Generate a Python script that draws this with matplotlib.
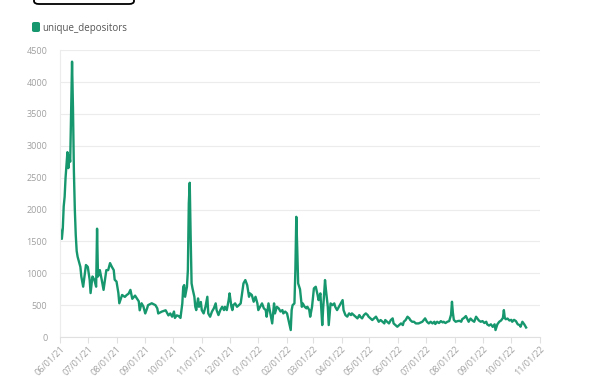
import numpy as np
import pandas as pd
import matplotlib
matplotlib.use("Agg")
import matplotlib.pyplot as plt
import matplotlib.dates as mdates
from matplotlib.patches import FancyBboxPatch

plt.rcParams['font.family'] = ['Open Sans', 'DejaVu Sans']

# days since 2021-06-01 and daily unique depositors
days = [0, 1, 2, 3, 4, 5, 6, 8, 9, 10, 11, 12, 13, 14, 15, 16, 17, 18, 19, 22,
        23, 25, 28, 30, 32, 33, 35, 37, 39, 40, 41, 43, 45, 47, 49, 50, 52, 54, 56, 58,
        59, 61, 63, 64, 67, 68, 70, 72, 74, 76, 78, 81, 85, 86, 88, 90, 92, 94, 95, 99,
        103, 105, 106, 110, 114, 117, 119, 121, 123, 124, 126, 128, 130, 132, 133, 134, 135, 137, 138, 139,
        140, 141, 142, 143, 145, 146, 147, 149, 150, 152, 153, 155, 157, 159, 160, 162, 164, 166, 168, 169,
        171, 173, 175, 177, 178, 180, 182, 183, 185, 186, 187, 189, 191, 193, 195, 196, 198, 200, 202, 204,
        205, 207, 209, 211, 213, 214, 216, 218, 220, 222, 223, 225, 227, 229, 231, 232, 234, 236, 238, 240,
        241, 243, 245, 247, 249, 250, 251, 253, 254, 255, 256, 257, 259, 261, 262, 264, 266, 267, 269, 270,
        272, 274, 276, 278, 279, 281, 283, 284, 286, 287, 289, 290, 292, 294, 296, 297, 299, 301, 303, 305,
        306, 308, 310, 312, 314, 315, 317, 319, 321, 323, 324, 326, 328, 330, 332, 333, 335, 337, 339, 341,
        342, 344, 346, 348, 350, 351, 353, 355, 357, 359, 360, 362, 364, 366, 368, 370, 371, 373, 375, 377,
        378, 380, 382, 384, 387, 391, 394, 396, 398, 400, 402, 404, 405, 407, 409, 411, 413, 414, 416, 418,
        420, 422, 423, 424, 425, 427, 429, 431, 433, 434, 436, 438, 440, 441, 443, 445, 447, 449, 451, 452,
        454, 456, 458, 460, 461, 463, 465, 467, 469, 470, 472, 474, 476, 478, 479, 480, 481, 483, 485, 487,
        488, 490, 492, 494, 496, 497, 499, 501, 503]
unique_depositors = [1700, 1620, 1540, 1700, 2050, 2200, 2500, 2900, 2650, 2850, 2750, 3500, 4320, 3600, 2600, 2000, 1600, 1350, 1260, 1100,
        950, 790, 1130, 1100, 900, 690, 950, 900, 790, 1700, 950, 1050, 900, 740, 950, 1050, 1050, 1160, 1100, 1050,
        900, 870, 690, 530, 660, 650, 630, 660, 680, 740, 600, 650, 560, 420, 530, 480, 370, 450, 500, 530,
        500, 450, 370, 400, 420, 340, 370, 320, 400, 300, 340, 330, 300, 528, 789, 815, 632, 789, 1050, 2096,
        2420, 1573, 842, 763, 632, 475, 423, 606, 475, 550, 423, 371, 475, 632, 371, 319, 400, 450, 528, 423,
        345, 423, 475, 423, 475, 423, 580, 685, 475, 423, 500, 528, 475, 500, 528, 632, 842, 894, 815, 632,
        685, 660, 554, 632, 528, 423, 475, 528, 450, 423, 319, 528, 371, 214, 528, 371, 475, 450, 400, 423,
        371, 400, 371, 241, 110, 423, 500, 528, 1050, 1886, 1400, 842, 750, 475, 528, 475, 450, 475, 423, 319,
        475, 763, 789, 660, 580, 685, 188, 450, 894, 740, 475, 188, 528, 500, 528, 475, 423, 475, 528, 580,
        423, 345, 320, 371, 345, 371, 345, 320, 293, 345, 320, 293, 345, 371, 345, 320, 293, 267, 293, 320,
        293, 240, 267, 240, 214, 267, 240, 214, 267, 293, 214, 188, 162, 188, 214, 188, 240, 267, 319, 293,
        267, 240, 240, 214, 214, 240, 293, 240, 214, 240, 214, 240, 205, 240, 220, 250, 230, 240, 220, 240,
        250, 350, 554, 380, 270, 240, 250, 255, 240, 280, 300, 329, 270, 240, 290, 260, 240, 319, 280, 260,
        240, 250, 220, 240, 200, 180, 200, 160, 200, 110, 200, 240, 260, 300, 423, 300, 280, 290, 260, 270,
        240, 270, 250, 200, 188, 162, 240, 200, 150]
start_date = "2021-06-01"
x_start, x_end = "2021-06-01", "2022-11-01"
y_ticks = [0, 500, 1000, 1500, 2000, 2500, 3000, 3500, 4000, 4500]
series_name = "unique_depositors"

dates = pd.Timestamp(start_date) + pd.to_timedelta(days, unit="D")

green = "#16976d"
grid_c = "#ececec"
tick_c = "#a0a0a0"

fig = plt.figure(figsize=(6, 3.8), dpi=100)
ax = fig.add_axes([0.1, 0.113, 0.8, 0.755])

ax.plot(dates, unique_depositors, color=green, lw=1.7, solid_joinstyle="round")

ax.set_xlim(pd.Timestamp(x_start), pd.Timestamp(x_end))
ax.set_ylim(0, 4500)
ax.set_yticks(y_ticks)
ax.xaxis.set_major_locator(mdates.MonthLocator())
ax.xaxis.set_major_formatter(mdates.DateFormatter("%m/%d/%y"))

ax.grid(axis="y", color=grid_c, lw=0.8)
ax.set_axisbelow(True)
for s in ["top", "right"]:
    ax.spines[s].set_visible(False)
ax.spines["left"].set_color(grid_c)
ax.spines["bottom"].set_color("#e0e0e0")
ax.tick_params(axis="y", length=0, pad=9, labelsize=6.5, labelcolor=tick_c)
ax.tick_params(axis="x", length=4, color="#e0e0e0", pad=1, labelsize=6.5, labelcolor=tick_c)
for lab in ax.get_xticklabels():
    lab.set_rotation(45)
    lab.set_ha("right")
    lab.set_rotation_mode("anchor")

# legend swatch + label
fig.patches.append(FancyBboxPatch((32 / 600, 1 - 32 / 380), 8 / 600, 10 / 380,
                                  boxstyle="round,pad=0,rounding_size=0.004",
                                  transform=fig.transFigure, fc=green, ec="none"))
fig.text(42 / 600, 1 - 28 / 380, series_name, fontsize=7, color="#555555", va="center")

# partially visible button at the top
fig.patches.append(FancyBboxPatch((34 / 600, 1 - 4 / 380), 100 / 600, 10 / 380,
                                  boxstyle="round,pad=0,rounding_size=0.008",
                                  transform=fig.transFigure, fc="white", ec="black", lw=1.3))

fig.savefig("out.png", dpi=100)
